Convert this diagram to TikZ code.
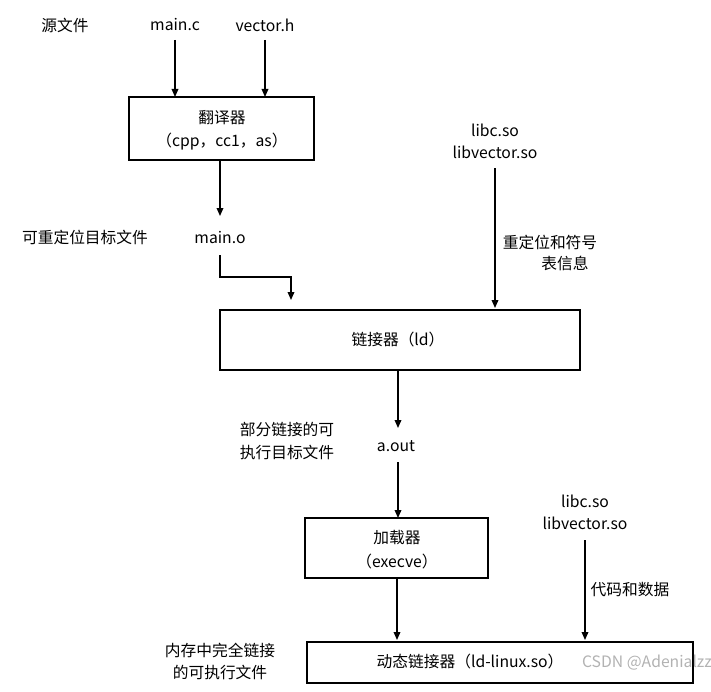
\documentclass[tikz,border=0pt]{standalone}
\usepackage{fontspec}
\setmainfont{Noto Sans CJK SC}
\usetikzlibrary{arrows.meta}
\begin{document}
\begin{tikzpicture}[x=0.75pt,y=-0.75pt,
  t/.style={font=\fontsize{11.8}{14}\selectfont,inner sep=0pt},
  box/.style={draw,line width=1.4pt},
  arr/.style={line width=1pt,-{Triangle[length=6pt,width=5pt]}}]
\useasboundingbox (0,0) rectangle (711,692);
\node[t] (src) at (65,25) {源文件};
\node[t] (mc) at (175,25) {main.c};
\node[t] (vh) at (265,25) {vector.h};
\node[box,minimum width=185*0.75pt,minimum height=63*0.75pt] (tr) at (221.5,128.5) {};
\node[t] (tr1) at (222,118) {翻译器};
\node[t] (tr2) at (222,142) {（cpp，cc1，as）};
\draw[arr] (175,40) -- (175,97);
\draw[arr] (265,40) -- (265,97);
\node[t] (rel) at (85,237) {可重定位目标文件};
\node[t] (mo) at (220,238) {main.o};
\draw[arr] (220,160) -- (mo.north |- 0,216);
\node[box,minimum width=360*0.75pt,minimum height=60*0.75pt] (ld) at (400,340) {};
\node[t] (ldt) at (398,340) {链接器（ld）};
\coordinate (ldin) at (291,300);
\draw[line width=1pt,-{Triangle[length=6pt,width=5pt]}] (220,255) -- (220,277) -- (291,277) -- (ldin);
\node[t] (l1) at (495,130) {libc.so};
\node[t] (l2) at (495,152) {libvector.so};
\draw[arr] (495,168) -- (495,308);
\node[t] (ri1) at (550,242) {重定位和符号};
\node[t] (ri2) at (565,263) {表信息};
\draw[arr] (398,370) -- (398,428);
\node[t] (p1) at (287,430) {部分链接的可};
\node[t] (p2) at (287,452) {执行目标文件};
\node[t] (ao) at (396,446) {a.out};
\draw[arr] (398,462) -- (398,518);
\node[box,minimum width=183*0.75pt,minimum height=60*0.75pt] (lo) at (396.5,548) {};
\node[t] (lo1) at (397,538) {加载器};
\node[t] (lo2) at (397,562) {（execve）};
\node[t] (m1) at (585,501) {libc.so};
\node[t] (m2) at (585,523) {libvector.so};
\node[t] (cd) at (630,590) {代码和数据};
\draw[arr] (585,540) -- (585,640);
\draw[arr] (397,578) -- (397,640);
\node[t] (f1) at (220,650) {内存中完全链接};
\node[t] (f2) at (220,672) {的可执行文件};
\node[box,minimum width=386*0.75pt,minimum height=41*0.75pt] (dl) at (500,662.5) {};
\node[t] (dlt) at (470,662) {动态链接器（ld-linux.so）};
\node[t,text=black!30] (wm) at (647,663) {CSDN @Adenialzz};
\end{tikzpicture}
\end{document}
